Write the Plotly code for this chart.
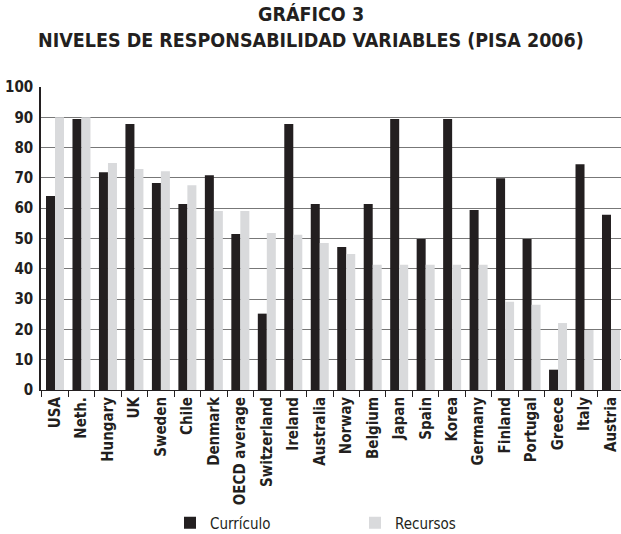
import plotly.graph_objects as go

categories = ["USA", "Neth.", "Hungary", "UK", "Sweden", "Chile", "Denmark", "OECD average",
              "Switzerland", "Ireland", "Australia", "Norway", "Belgium", "Japan", "Spain",
              "Korea", "Germany", "Finland", "Portugal", "Greece", "Italy", "Austria"]
curriculo = [64.0, 89.4, 71.9, 87.8, 68.3, 61.4, 70.9, 51.5, 25.2, 87.8, 61.4, 47.2, 61.4,
             89.4, 49.8, 89.4, 59.4, 69.9, 49.8, 6.7, 74.5, 57.8]
recursos = [90.0, 90.0, 74.9, 72.9, 72.2, 67.6, 59.1, 59.1, 51.8, 51.2, 48.5, 44.9, 41.3,
            41.3, 41.3, 41.3, 41.3, 29.1, 28.1, 22.1, 19.8, 19.8]
y_ticks = [0, 10, 20, 30, 40, 50, 60, 70, 80, 90, 100]

FONT = "DejaVu Sans Condensed, Liberation Sans Narrow, Arial Narrow, sans-serif"

fig = go.Figure()
fig.add_trace(go.Bar(x=categories, y=curriculo, name="Currículo", marker_color="#231f20",
                     marker_line_width=0))
fig.add_trace(go.Bar(x=categories, y=recursos, name="Recursos", marker_color="#d9dadc",
                     marker_line_width=0))

W, H = 621, 534
left, top, bottom = 41, 87, 390
ph = bottom - top

def py(pix):
    return (bottom - pix) / ph

def px(pix):
    return (pix - left) / (W - left)

fig.update_layout(
    width=W, height=H,
    margin=dict(l=left, r=0, t=top, b=H - bottom, autoexpand=False),
    paper_bgcolor="white", plot_bgcolor="white",
    barmode="group", bargap=0.32, bargroupgap=0,
    font=dict(family=FONT, color="#231f20"),
    showlegend=True,
    legend=dict(orientation="h", x=px(170), xanchor="left", y=py(523), yanchor="middle",
                font=dict(size=15, family=FONT, color="#231f20"), entrywidth=140,
                bgcolor="rgba(0,0,0,0)"),
    xaxis=dict(tickangle=-90, tickfont=dict(size=15, family=FONT, weight="bold"),
               showline=True, linecolor="#231f20", linewidth=1,
               ticks="outside", ticklen=6, tickcolor="#231f20", tickson="boundaries",
               showgrid=False, range=[-0.529, 21.378], automargin=False),
    yaxis=dict(range=[0, 100], tickvals=y_ticks, tickfont=dict(size=15, family=FONT, weight="bold"),
               showline=True, linecolor="#231f20", linewidth=1.5,
               showgrid=True, gridcolor="#777777", gridwidth=1.2,
               ticks="", zeroline=False, automargin=False, ticklabelstandoff=3),
    annotations=[
        dict(text="GRÁFICO 3", x=px(311), xref="paper", y=py(14), yref="paper",
             showarrow=False, xanchor="center", yanchor="middle",
             font=dict(size=19.5, family=FONT, weight="bold", color="#231f20")),
        dict(text="NIVELES DE RESPONSABILIDAD VARIABLES (PISA 2006)", x=px(311), xref="paper",
             y=py(40), yref="paper", showarrow=False, xanchor="center", yanchor="middle",
             font=dict(size=19.5, family=FONT, weight="bold", color="#231f20")),
    ],
)

fig.write_html("out.html", config={"displayModeBar": False},
               post_script="document.body.style.margin='0';")
